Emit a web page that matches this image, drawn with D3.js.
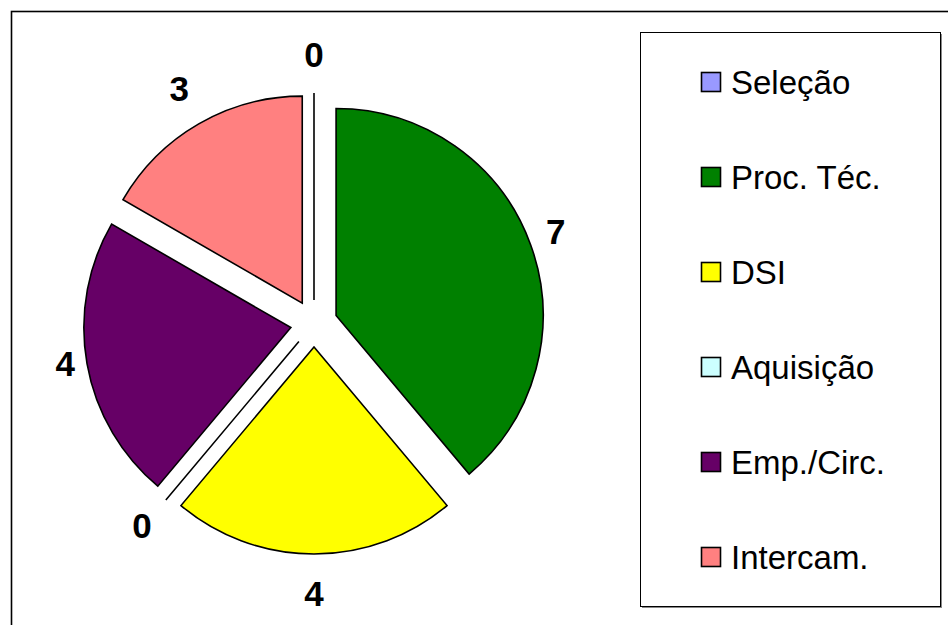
<!DOCTYPE html>
<html><head><meta charset="utf-8">
<script src="https://cdn.jsdelivr.net/npm/d3@7"></script>
<style>html,body{margin:0;padding:0;background:#fff;}svg{display:block;}</style>
</head><body>
<script>
const categories = ["Seleção", "Proc. Téc.", "DSI", "Aquisição", "Emp./Circ.", "Intercam."];
const values = [0, 7, 4, 0, 4, 3];
const colors = ["#9999FF", "#008000", "#FFFF00", "#CCFFFF", "#660066", "#FF8080"];

const W = 948, H = 625;
const svg = d3.select("body").append("svg").attr("width", W).attr("height", H);

// outer frame
svg.append("rect").attr("x", 11.5).attr("y", 11.5).attr("width", W).attr("height", H)
  .attr("fill", "#fff").attr("stroke", "#000").attr("stroke-width", 1.6);

const cx = 314, cy = 323.5, r = 207, explode = 23.5;
const pie = d3.pie().sort(null).value(d => d).startAngle(0).endAngle(2 * Math.PI);
const arcs = pie(values);
const arc = d3.arc().innerRadius(0).outerRadius(r);
const color = d3.scaleOrdinal().domain(categories).range(colors);

const g = svg.append("g").attr("transform", `translate(${cx},${cy})`);
g.selectAll("path").data(arcs).join("path")
  .attr("transform", d => {
    const a = (d.startAngle + d.endAngle) / 2;
    return `translate(${Math.sin(a) * explode},${-Math.cos(a) * explode})`;
  })
  .attr("d", arc)
  .attr("fill", (d, i) => color(categories[i]))
  .attr("stroke", "#000").attr("stroke-width", 1.6).attr("stroke-linejoin", "miter");

// data labels
g.selectAll("text.lbl").data(arcs).join("text").attr("class", "lbl")
  .each(function(d) {
    const a = (d.startAngle + d.endAngle) / 2;
    const sx = Math.sin(a), sy = -Math.cos(a);
    const dist = r + explode + 9 + Math.abs(sx) * 8 + Math.abs(sy) * 30;
    d3.select(this).attr("x", sx * dist).attr("y", sy * dist - Math.abs(sx) * 4 + 12.5);
  })
  .attr("text-anchor", "middle")
  .attr("font-family", "'Liberation Sans', Arial, sans-serif")
  .attr("font-weight", "bold").attr("font-size", 35)
  .text(d => d.data);

// legend
const lg = svg.append("g");
lg.append("rect").attr("x", 642).attr("y", 34).attr("width", 300).attr("height", 574)
  .attr("fill", "#888");
lg.append("rect").attr("x", 640.5).attr("y", 32.5).attr("width", 300).attr("height", 574)
  .attr("fill", "#fff").attr("stroke", "#000").attr("stroke-width", 1);
const ly = d3.scalePoint().domain(categories).range([82, 557]);
const items = lg.selectAll("g.item").data(categories).join("g").attr("class", "item")
  .attr("transform", d => `translate(0,${ly(d)})`);
items.append("rect").attr("x", 701.5).attr("y", -9.5).attr("width", 19).attr("height", 19)
  .attr("fill", d => color(d)).attr("stroke", "#000").attr("stroke-width", 1.6);
items.append("text").attr("x", 731).attr("y", 11.5)
  .attr("font-family", "'Liberation Sans', Arial, sans-serif").attr("font-size", 33)
  .attr("fill", "#000").text(d => d);
</script>
</body></html>
